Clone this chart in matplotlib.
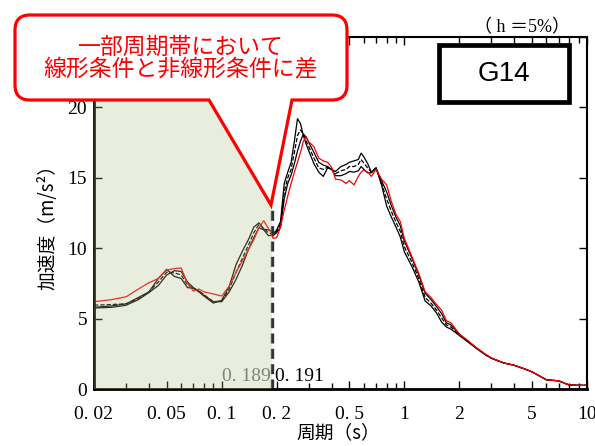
import matplotlib
matplotlib.use("Agg")
import matplotlib.pyplot as plt
from matplotlib.patches import PathPatch, Rectangle
from matplotlib.path import Path
from matplotlib.ticker import LogLocator, NullFormatter

# periods (s) shared by all four spectra
period = [0.02, 0.025, 0.03, 0.035, 0.04, 0.045, 0.05, 0.055, 0.06, 0.065,
          0.07, 0.075, 0.08, 0.09, 0.1, 0.11, 0.12, 0.13, 0.14, 0.15,
          0.16, 0.17, 0.18, 0.189,
          0.191, 0.2, 0.21, 0.22, 0.23, 0.24, 0.25, 0.26, 0.27, 0.28, 0.29, 0.3,
          0.32, 0.34, 0.36, 0.38, 0.4, 0.42, 0.45, 0.48, 0.5, 0.53, 0.56, 0.58,
          0.6, 0.63, 0.66, 0.7, 0.75, 0.8, 0.85, 0.9, 0.95, 1.0,
          1.1, 1.2, 1.3, 1.4, 1.5, 1.6, 1.7, 1.8, 2.0, 2.2, 2.5, 2.8,
          3.0, 3.5, 4.0, 4.5, 5.0, 6.0, 7.0, 8.0, 9.0, 10.0]

# nonlinear case (red)
sa_red = [6.2, 6.35, 6.55, 7.1, 7.55, 7.85, 8.45, 8.55, 8.6, 7.5,
          6.95, 7.1, 6.9, 6.75, 6.6, 7.3, 8.3, 9.1, 9.9, 10.6,
          11.45, 11.95, 11.4, 11.0,
          10.7, 10.75, 11.5, 12.7, 13.7, 14.6, 15.4, 16.1, 16.8, 17.6, 17.9, 17.55,
          17.2, 16.4, 16.2, 16.1, 15.75, 14.9, 14.85, 14.6, 14.8, 14.5, 15.1, 15.4,
          15.55, 15.4, 15.1, 15.6, 14.9, 14.5, 13.3, 12.4, 11.9, 10.7,
          9.4, 8.2, 6.9, 6.5, 6.0, 5.6, 4.85, 4.7, 3.9, 3.5, 2.9, 2.45,
          2.2, 1.85, 1.68, 1.45, 1.22, 0.65, 0.58, 0.28, 0.26, 0.26]

# linear cases (black)
sa_lin_a = [5.8, 5.9, 6.05, 6.5, 6.9, 7.85, 8.5, 8.0, 7.85, 7.2,
            7.15, 6.9, 6.6, 6.1, 6.3, 7.3, 8.85, 9.8, 10.6, 11.5,
            11.8, 11.35, 11.3, 11.2,
            11.0, 11.3, 11.9, 14.6, 15.4, 16.1, 17.6, 19.2, 18.85, 18.0, 17.4, 16.9,
            16.0, 15.4, 15.1, 15.7, 15.6, 15.45, 15.8, 15.95, 16.1, 16.2, 16.3, 16.75,
            16.5, 16.0, 15.4, 15.7, 14.5, 13.0, 12.2, 11.5, 10.8, 9.75,
            8.7, 7.6, 6.25, 5.9, 5.4, 4.75, 4.4, 4.25, 3.8, 3.4, 2.85, 2.4,
            2.18, 1.85, 1.68, 1.45, 1.22, 0.65, 0.58, 0.28, 0.26, 0.26]

sa_lin_b = [5.75, 5.8, 5.95, 6.35, 6.85, 7.35, 8.1, 8.4, 8.35, 7.6,
            7.2, 6.95, 6.65, 6.2, 6.2, 6.9, 7.8, 8.8, 9.9, 10.75,
            11.45, 11.3, 10.9, 10.9,
            10.9, 11.1, 11.5, 13.5, 14.6, 15.2, 16.0, 16.9, 17.6, 18.1, 17.9, 17.5,
            16.8, 16.1, 15.9, 15.8, 15.6, 15.15, 15.15, 15.3, 15.45, 15.4, 15.5, 15.8,
            15.6, 15.35, 15.35, 15.7, 14.8, 14.0, 13.0, 12.2, 11.6, 10.5,
            9.3, 8.1, 6.8, 6.35, 5.85, 5.35, 4.7, 4.55, 3.9, 3.45, 2.88, 2.42,
            2.19, 1.85, 1.68, 1.45, 1.22, 0.65, 0.58, 0.28, 0.26, 0.26]

sa_lin_mean = [5.95, 6.0, 6.05, 6.4, 6.9, 7.6, 8.3, 8.25, 8.1, 7.4,
               7.15, 6.95, 6.7, 6.2, 6.25, 7.1, 8.3, 9.3, 10.2, 11.1,
               11.7, 11.4, 11.1, 11.0,
               11.0, 11.2, 11.7, 14.0, 15.0, 15.6, 16.8, 18.0, 18.4, 18.1, 17.6, 17.2,
               16.4, 15.7, 15.6, 15.75, 15.6, 15.3, 15.5, 15.6, 15.8, 15.8, 15.95, 16.3,
               16.05, 15.7, 15.4, 15.7, 14.6, 13.5, 12.6, 11.85, 11.2, 10.1,
               9.0, 7.85, 6.5, 6.1, 5.6, 5.05, 4.55, 4.4, 3.85, 3.42, 2.87, 2.41,
               2.18, 1.85, 1.68, 1.45, 1.22, 0.65, 0.58, 0.28, 0.26, 0.26]

x_ticks = [0.02, 0.05, 0.1, 0.2, 0.5, 1, 2, 5, 10]
x_tick_labels = ["0. 02", "0. 05", "0. 1", "0. 2", "0. 5", "1", "2", "5", "10"]
y_ticks = [0, 5, 10, 15, 20, 25]
y_tick_labels = ["0", "5", "10", "15", "20", ""]  # 25 sits behind the balloon

split_left = 0.189
split_right = 0.191
tip_height = 13.1

SERIF = "Liberation Serif"
CJK = ["Noto Sans CJK JP", "DejaVu Sans"]

W, H = 595, 446


def fx(px):
    return px / W


def fy(py):
    return 1 - py / H


fig = plt.figure(figsize=(5.95, 4.46), dpi=100)
ax = fig.add_axes([fx(94), fy(389), fx(587) - fx(94), fy(37) - fy(389)])

ax.plot(period, sa_lin_a, color="black", lw=0.9, zorder=2)
ax.plot(period, sa_lin_b, color="black", lw=0.9, zorder=2)
ax.plot(period, sa_lin_mean, color="black", lw=0.9, dashes=(3.5, 1.5), zorder=2)
ax.plot(period, sa_red, color="#ff0000", lw=0.9, zorder=2)

ax.plot([split_left, split_left], [0, tip_height], color="#333333", lw=2.4,
        dashes=(3, 1.6), zorder=2)
ax.text(split_left * 0.985, 0.25, "0. 189", ha="right", va="bottom",
        fontsize=14, family=SERIF, color="#6f6f6f", zorder=2)
ax.text(split_right * 1.02, 0.25, "0. 191", ha="left", va="bottom",
        fontsize=14, family=SERIF, color="black", zorder=2)

# translucent olive shade over the short-period band
ax.axvspan(0.02, split_left, color=(175 / 255, 190 / 255, 130 / 255),
           alpha=0.27, lw=0, zorder=3)

ax.set_xscale("log")
ax.set_xlim(0.02, 10)
ax.set_ylim(0, 25)
ax.set_xticks(x_ticks)
ax.set_xticklabels(x_tick_labels)
ax.xaxis.set_minor_locator(LogLocator(base=10, subs=range(2, 10)))
ax.xaxis.set_minor_formatter(NullFormatter())
ax.set_yticks(y_ticks)
ax.set_yticklabels(y_tick_labels)

ax.tick_params(which="both", direction="in", top=True, right=True,
               labelsize=14, width=1)
ax.tick_params(which="major", length=6)
ax.tick_params(which="minor", length=4)
ax.tick_params(axis="x", pad=12)
ax.tick_params(axis="y", pad=5)
for lab in ax.get_xticklabels() + ax.get_yticklabels():
    lab.set_family(SERIF)

for side in ["left", "bottom"]:
    ax.spines[side].set_linewidth(2)
for side in ["top", "right"]:
    ax.spines[side].set_linewidth(1.5)

fig.text(fx(48), fy(222), "加速度（m/s²）", rotation=90, ha="center",
         va="center", fontsize=13.5, family=CJK)
fig.text(fx(338), fy(433), "周期（s）", ha="center", va="center",
         fontsize=13.5, family=CJK)
fig.text(fx(522), fy(28), "（ h ＝5%）", ha="center", va="center",
         fontsize=13, family=[SERIF] + CJK)

# G14 label box
fig.add_artist(Rectangle((fx(439), fy(102)), fx(569) - fx(439), fy(45) - fy(102),
                         transform=fig.transFigure, facecolor="white",
                         edgecolor="black", lw=3.4, zorder=5))
fig.text(fx(504), fy(74), "G14", ha="center", va="center", fontsize=20,
         family="Liberation Sans", zorder=6)

# callout balloon pointing at the split period
L, R, T, B, r = 15, 347, 15, 100, 15
verts = [
    (L + r, T), (R - r, T),
    (R, T), (R, T + r),
    (R, B - r),
    (R, B), (R - r, B),
    (292, B), (271, 205), (209, B),
    (L + r, B),
    (L, B), (L, B - r),
    (L, T + r),
    (L, T), (L + r, T),
    (L + r, T),
]
codes = [Path.MOVETO, Path.LINETO,
         Path.CURVE3, Path.CURVE3,
         Path.LINETO,
         Path.CURVE3, Path.CURVE3,
         Path.LINETO, Path.LINETO, Path.LINETO,
         Path.LINETO,
         Path.CURVE3, Path.CURVE3,
         Path.LINETO,
         Path.CURVE3, Path.CURVE3,
         Path.CLOSEPOLY]
balloon = Path([(fx(px), fy(py)) for px, py in verts], codes)
fig.add_artist(PathPatch(balloon, transform=fig.transFigure, facecolor="white",
                         edgecolor="#ff0000", lw=2.3, zorder=5))
fig.text(fx(181), fy(47), "一部周期帯において", ha="center", va="center",
         fontsize=16.5, family=CJK, color="#ff0000", zorder=6)
fig.text(fx(181), fy(69), "線形条件と非線形条件に差", ha="center", va="center",
         fontsize=16.5, family=CJK, color="#ff0000", zorder=6)

fig.savefig("out.png", dpi=100)
